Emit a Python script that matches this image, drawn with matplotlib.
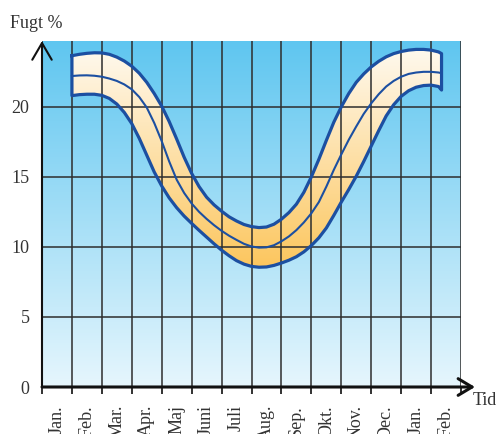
"""
Fugt % gennem året - bånd med middelkurve.
"""

import numpy as np
import matplotlib
matplotlib.use("Agg")
import matplotlib.pyplot as plt
from matplotlib.colors import LinearSegmentedColormap

# --- data ---
months = ["Jan.", "Feb.", "Mar.", "Apr.", "Maj", "Juni", "Juli",
          "Aug.", "Sep.", "Okt.", "Nov.", "Dec.", "Jan.", "Feb."]
y_ticks = [0, 5, 10, 15, 20]

x = [1.0, 1.25, 1.5, 1.75, 2.0, 2.25, 2.5, 2.75, 3.0, 3.25, 3.5, 3.75,
     4.0, 4.25, 4.5, 4.75, 5.0, 5.25, 5.5, 5.75, 6.0, 6.25, 6.5, 6.75,
     7.0, 7.25, 7.5, 7.75, 8.0, 8.25, 8.5, 8.75, 9.0, 9.25, 9.5, 9.75,
     10.0, 10.25, 10.5, 10.75, 11.0, 11.25, 11.5, 11.75, 12.0, 12.25,
     12.5, 12.75, 13.0, 13.25, 13.35]
upper = [23.65, 23.75, 23.82, 23.86, 23.85, 23.75, 23.55, 23.27, 22.90,
         22.40, 21.75, 20.95, 20.05, 18.95, 17.70, 16.40, 15.25, 14.30,
         13.55, 13.00, 12.55, 12.15, 11.85, 11.60, 11.45, 11.38, 11.42,
         11.62, 11.98, 12.45, 13.05, 13.90, 15.00, 16.25, 17.60, 18.90,
         20.00, 20.95, 21.75, 22.35, 22.85, 23.25, 23.57, 23.80, 23.95,
         24.05, 24.10, 24.10, 24.05, 23.92, 23.80]
middle = [22.20, 22.24, 22.25, 22.22, 22.15, 22.02, 21.85, 21.60, 21.25,
          20.70, 19.95, 18.85, 17.55, 16.10, 14.80, 13.85, 13.10, 12.50,
          12.00, 11.55, 11.15, 10.80, 10.50, 10.22, 10.03, 9.95, 9.97,
          10.12, 10.40, 10.75, 11.20, 11.75, 12.40, 13.20, 14.30, 15.50,
          16.60, 17.65, 18.60, 19.50, 20.25, 20.90, 21.45, 21.85, 22.15,
          22.35, 22.45, 22.50, 22.50, 22.45, 22.40]
lower = [20.80, 20.87, 20.90, 20.90, 20.82, 20.60, 20.20, 19.60, 18.80,
         17.75, 16.55, 15.35, 14.35, 13.50, 12.80, 12.20, 11.68, 11.18,
         10.70, 10.22, 9.77, 9.37, 9.02, 8.77, 8.61, 8.55, 8.57,
         8.68, 8.85, 9.05, 9.30, 9.65, 10.10, 10.65, 11.35, 12.25,
         13.20, 14.10, 15.05, 16.10, 17.20, 18.30, 19.35, 20.15, 20.75,
         21.15, 21.40, 21.52, 21.55, 21.45, 21.20]

X_MAX = 14
Y_MAX = 24.7
LINE_BLUE = "#1c4fa1"
TEXT_COL = "#333333"

plt.rcParams["font.family"] = ["Liberation Serif", "DejaVu Serif"]

fig = plt.figure(figsize=(4.96, 4.34), dpi=100)
ax = fig.add_axes([42 / 496, 1 - 387 / 434, 419 / 496, 346 / 434])
ax.set_xlim(0, X_MAX)
ax.set_ylim(0, Y_MAX)

# baggrund: blå gradient
bg_cmap = LinearSegmentedColormap.from_list("bg", ["#e6f6fd", "#5fc6f0"])
grad = np.linspace(0, 1, 256).reshape(-1, 1)
ax.imshow(grad, cmap=bg_cmap, origin="lower", aspect="auto",
          extent=[0, X_MAX, 0, Y_MAX], zorder=0)

# båndet med gul gradient
poly = ax.fill_between(x, lower, upper, facecolor="none", edgecolor="none")
band_cmap = LinearSegmentedColormap.from_list("band", ["#fcc65e", "#fff9ee"])
band = ax.imshow(grad, cmap=band_cmap, origin="lower", aspect="auto",
                 extent=[0, X_MAX, min(lower), max(upper)], zorder=1)
band.set_clip_path(poly.get_paths()[0], transform=ax.transData)
ax.set_xlim(0, X_MAX)
ax.set_ylim(0, Y_MAX)

# gitter
ax.set_axisbelow("line")
ax.set_xticks(range(X_MAX + 1))
ax.set_xticklabels([])
ax.set_xticks(np.arange(X_MAX) + 0.5, minor=True)
ax.set_xticklabels(months, minor=True)
ax.set_yticks(y_ticks)
ax.set_yticklabels([str(v) for v in y_ticks])
ax.grid(True, which="major", color="#2e2e2e", linewidth=1.3, alpha=0.85)

# kurverne
ax.plot(np.r_[x, x[::-1], x[0]], np.r_[upper, lower[::-1], upper[0]],
        color=LINE_BLUE, linewidth=2.3, solid_joinstyle="round", zorder=3)
ax.plot(x, middle, color=LINE_BLUE, linewidth=1.5,
        solid_joinstyle="round", zorder=3)

ax.tick_params(axis="x", which="major", direction="out", length=5,
               width=1.3, color="#222222")
ax.tick_params(axis="x", which="minor", length=0, pad=13, labelsize=13,
               labelrotation=90, labelcolor=TEXT_COL)
ax.tick_params(axis="y", length=0, pad=9, labelsize=13, labelcolor=TEXT_COL)

for side in ["top", "right", "left", "bottom"]:
    ax.spines[side].set_visible(False)

# akser med pile
ax.annotate("", xy=(0, 1), xytext=(0, 0), xycoords="axes fraction",
            arrowprops=dict(arrowstyle="->,head_length=1.2,head_width=0.7",
                            color="#111111", lw=1.5, shrinkA=0, shrinkB=0),
            annotation_clip=False, zorder=5)
ax.annotate("", xy=(1 + 14 / 419, 0), xytext=(0, 0), xycoords="axes fraction",
            arrowprops=dict(arrowstyle="->,head_length=1.0,head_width=0.6",
                            color="#111111", lw=2.2, shrinkA=0, shrinkB=0),
            annotation_clip=False, zorder=5)

fig.text(10 / 496, 1 - 28 / 434, "Fugt %", fontsize=13, color=TEXT_COL,
         va="baseline", ha="left")
fig.text(473 / 496, 1 - 405 / 434, "Tid", fontsize=13, color=TEXT_COL,
         va="baseline", ha="left")

fig.savefig("out.png", dpi=100)
